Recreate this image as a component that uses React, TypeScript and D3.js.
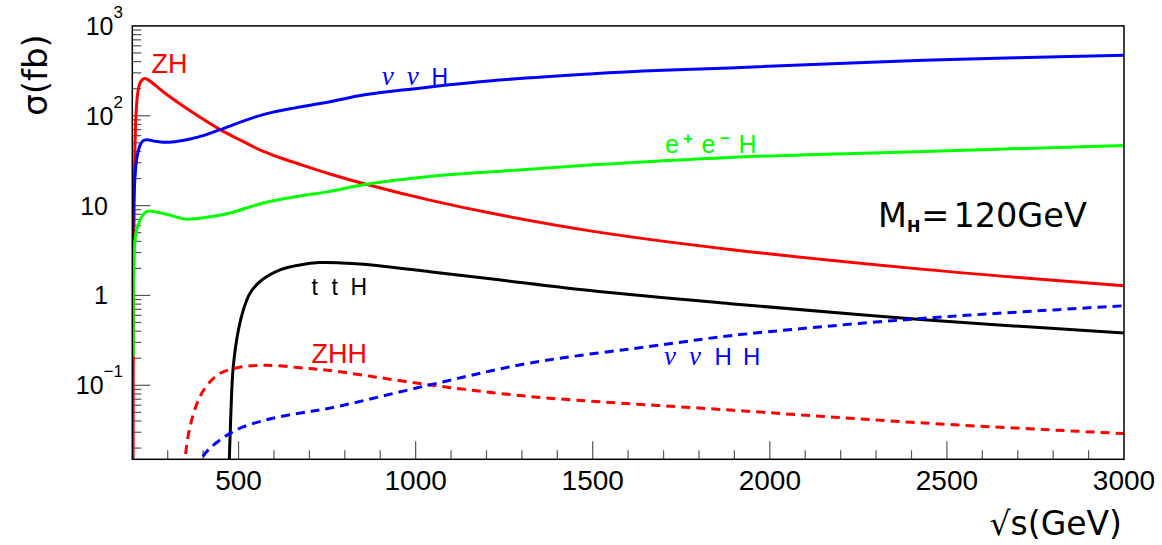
import React from "react";
import * as d3 from "d3";

// ---- data (sqrt(s) in GeV, sigma in fb) ----
const zhE = [202, 203.5, 206, 210, 215, 222, 230, 236, 248, 287, 335, 390, 448, 505, 570, 615, 664, 758, 852, 1040, 1229, 1511, 1888, 2435, 3000];
const zhS = [0.005, 1.5, 20, 95, 175, 232, 255, 259, 246, 185, 135, 97, 70, 53.5, 40, 34.3, 29.6, 22.5, 17.6, 11.5, 8.0, 5.1, 3.25, 1.95, 1.28];

const nnhE = [201, 205, 212, 222, 230, 241, 265, 288, 320, 354, 400, 448, 570, 758, 852, 993, 1229, 1502, 1699, 1888, 2435, 3000];
const nnhS = [4.2, 13.7, 32, 47, 52.5, 54, 52, 50.6, 51.5, 54, 60, 70, 103, 143, 170, 199, 248, 294, 321, 341, 414, 471];

const eehE = [202.9, 206.2, 212.4, 221.7, 235, 245, 297, 354, 419, 476, 570, 664, 758, 852, 1040, 1229, 1502, 1888, 2435, 3000];
const eehS = [0.21, 3.5, 5.35, 6.9, 8.3, 8.7, 8.0, 7.06, 7.5, 8.28, 10.7, 12.6, 14.4, 17.1, 21.1, 24.0, 28.5, 34.4, 40.1, 46.7];

const tthE = [471, 478, 485, 500, 515, 532, 560, 617, 673, 729, 790, 852, 1040, 1229, 1511, 1888, 2435, 3000];
const tthS = [0.006, 0.045, 0.16, 0.42, 0.72, 1.05, 1.42, 1.92, 2.18, 2.32, 2.3, 2.22, 1.84, 1.5, 1.11, 0.81, 0.536, 0.381];

const zhhE = [345, 349, 363, 391, 420, 448, 500, 575, 673, 758, 1040, 1323, 1888, 2435, 3000];
const zhhS = [0.008, 0.015, 0.0347, 0.0748, 0.11, 0.136, 0.158, 0.167, 0.157, 0.146, 0.101, 0.075, 0.053, 0.038, 0.029];

const nnhhE = [393, 400.5, 485, 579, 673, 758, 1040, 1323, 1699, 1888, 2407, 3000];
const nnhhS = [0.011, 0.0163, 0.0306, 0.0413, 0.049, 0.0557, 0.101, 0.177, 0.283, 0.356, 0.546, 0.768];

const xMajorTicks = [500, 1000, 1500, 2000, 2500, 3000];
const yMajorTicks = [0.1, 1, 10, 100, 1000];
const yTickLabels = [
  { v: 1000, base: "10", exp: "3" },
  { v: 100, base: "10", exp: "2" },
  { v: 10, base: "10", exp: "" },
  { v: 1, base: "1", exp: "" },
  { v: 0.1, base: "10", exp: "\u22121" },
];

const FONT = "'Liberation Sans', Arial, Helvetica, sans-serif";
const WIDE = "'DejaVu Sans', 'Liberation Sans', sans-serif";
const SERIF = "'Liberation Serif', 'DejaVu Serif', serif";

export default function App() {
  const W = 1162, H = 545;
  const left = 132.3, right = 1124, top = 25.9, bottom = 459.3;
  const x = d3.scaleLinear().domain([200, 3000]).range([left, right]);
  const y = d3.scaleLog().domain([0.015, 1000]).range([bottom, top]);

  const mk = (E: number[], S: number[]) =>
    d3.line<number>()
      .x((_, i) => x(E[i]))
      .y((_, i) => y(S[i]))
      .curve(d3.curveCatmullRom.alpha(0.5))(S as any) || "";

  const series = [
    { E: zhE, S: zhS, color: "#ff0000", dash: undefined },
    { E: nnhE, S: nnhS, color: "#0000ff", dash: undefined },
    { E: eehE, S: eehS, color: "#00ff00", dash: undefined },
    { E: tthE, S: tthS, color: "#000000", dash: undefined },
    { E: zhhE, S: zhhS, color: "#ff0000", dash: "9,6" },
    { E: nnhhE, S: nnhhS, color: "#0000ff", dash: "9,6" },
  ];

  const xTicks = d3.range(300, 3000, 100);
  const yTicks: number[] = [];
  for (let d = -2; d <= 2; d++) {
    for (let m = 1; m <= 9; m++) {
      const v = m * Math.pow(10, d);
      if (v >= 0.015 && v < 1000) yTicks.push(v);
    }
  }

  return (
    <svg width={W} height={H} style={{ position: "absolute", left: 0, top: 0, background: "#fff" }} fontFamily={FONT}>
      <defs>
        <clipPath id="plot">
          <rect x={left} y={top} width={right - left} height={bottom - top} />
        </clipPath>
      </defs>
      <rect x={0} y={0} width={W} height={H} fill="#fff" />

      {/* ticks */}
      {xTicks.map((t) => {
        const major = t % 500 === 0;
        return <line key={"xt" + t} x1={x(t)} x2={x(t)} y1={bottom} y2={bottom - (major ? 18 : 9)} stroke="#555" strokeWidth={1.2} />;
      })}
      {yTicks.map((t, i) => {
        const major = yMajorTicks.some((m) => Math.abs(m - t) / m < 1e-6);
        return <line key={"yt" + i} x1={left} x2={left + (major ? 18 : 9)} y1={y(t)} y2={y(t)} stroke="#555" strokeWidth={1.2} />;
      })}

      {/* curves */}
      <g clipPath="url(#plot)">
        {series.map((s, i) => (
          <path key={i} d={mk(s.E, s.S)} fill="none" stroke={s.color} strokeWidth={3} strokeDasharray={s.dash} strokeLinejoin="round" />
        ))}
      </g>

      {/* frame */}
      <rect x={left} y={top} width={right - left} height={bottom - top} fill="none" stroke="#000" strokeWidth={1.5} />

      {/* x tick labels */}
      {xMajorTicks.map((t) => (
        <text key={"xl" + t} x={x(t)} y={490} fontSize={28} textAnchor="middle" fill="#000">{t}</text>
      ))}
      {/* y tick labels */}
      {yTickLabels.map((l) => (
        <text key={"yl" + l.v} x={l.exp ? 123 : 108} y={y(l.v) + 9} fontSize={25} textAnchor="end" fill="#000">
          <tspan>{l.base}</tspan>
          {l.exp ? <tspan dy={-17} fontSize={17}>{l.exp}</tspan> : null}
        </text>
      ))}

      {/* axis titles */}
      <text transform="translate(47,75) rotate(-90)" fontSize={34} fontFamily={WIDE} textAnchor="middle" fill="#000">σ(fb)</text>
      <text x={1122} y={535} fontSize={33} fontFamily={WIDE} textAnchor="end" fill="#000">√s(GeV)</text>

      {/* curve labels */}
      <text x={151.5} y={73.3} fontSize={27} fill="#ff0000">ZH</text>
      <text y={85} fontSize={23} fill="#0000ff">
        <tspan x={381.7} fontFamily={SERIF} fontStyle="italic" fontSize={27}>ν</tspan>
        <tspan x={406.7} fontFamily={SERIF} fontStyle="italic" fontSize={27}>ν</tspan>
        <tspan x={431.5}>H</tspan>
      </text>
      <text y={153.3} fontSize={25} fill="#00ff00">
        <tspan x={665}>e</tspan>
        <tspan x={683} dy={-9} fontSize={17} fontWeight="bold">+</tspan>
        <tspan x={701.5} dy={9}>e</tspan>
        <tspan x={720} dy={-9} fontSize={17} fontWeight="bold">−</tspan>
        <tspan x={738.5} dy={9}>H</tspan>
      </text>
      <text y={226.7} fontSize={33.5} fontFamily={WIDE} fill="#000">
        <tspan x={878}>M</tspan>
        <tspan dy={5} fontSize={16} fontWeight="bold">H</tspan>
        <tspan dy={-5} dx={1}>=</tspan>
        <tspan dx={4}>120GeV</tspan>
      </text>
      <text y={295} fontSize={23} fill="#000">
        <tspan x={311.5}>t</tspan>
        <tspan x={331.5}>t</tspan>
        <tspan x={350.5}>H</tspan>
      </text>
      <text x={311.5} y={363.3} fontSize={27} fill="#ff0000">ZHH</text>
      <text y={365} fontSize={24} fill="#0000ff">
        <tspan x={664} fontFamily={SERIF} fontStyle="italic" fontSize={27}>ν</tspan>
        <tspan x={689} fontFamily={SERIF} fontStyle="italic" fontSize={27}>ν</tspan>
        <tspan x={714.5}>H</tspan>
        <tspan x={743}>H</tspan>
      </text>
    </svg>
  );
}
